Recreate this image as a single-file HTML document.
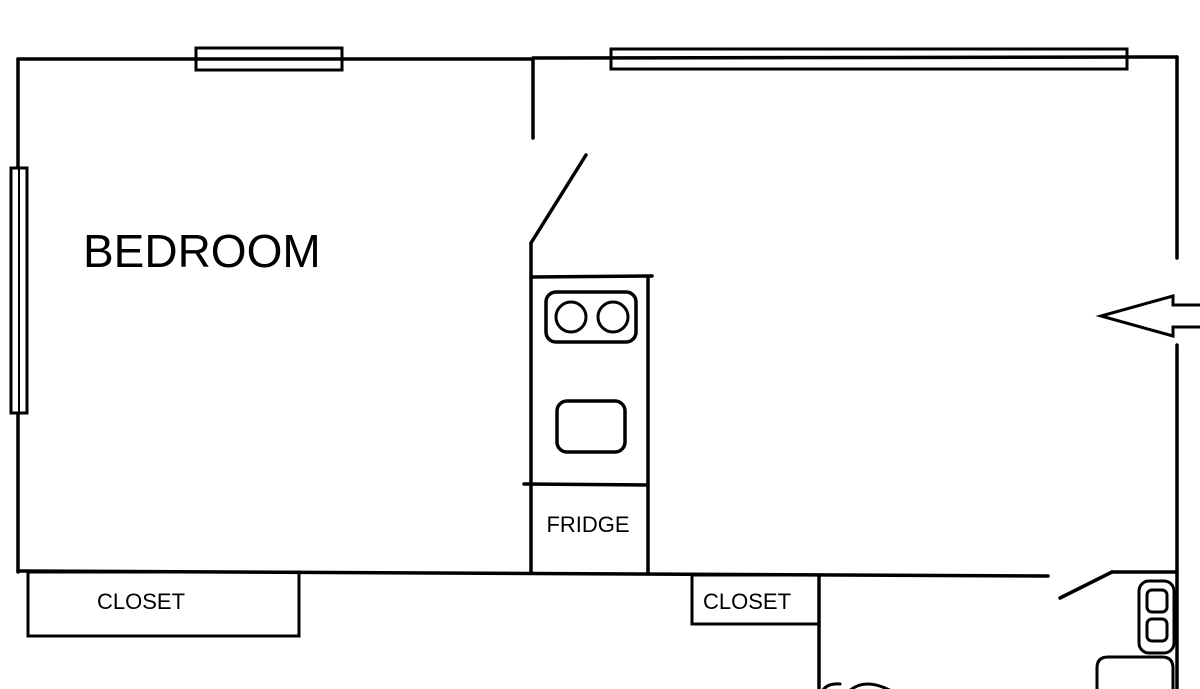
<!DOCTYPE html>
<html><head><style>html,body{margin:0;padding:0;background:#fff;width:1200px;height:689px;overflow:hidden}</style></head>
<body>
<svg width="1200" height="689" viewBox="0 0 1200 689" xmlns="http://www.w3.org/2000/svg" font-family="Liberation Sans, DejaVu Sans, sans-serif">
<g stroke="#000" stroke-width="3.5" fill="none" stroke-linecap="round">
<!-- top walls -->
<line x1="18" y1="59" x2="533" y2="59"/>
<rect x="196" y="48" width="146" height="22" stroke-width="3"/>
<line x1="533" y1="58" x2="1177" y2="57"/>
<rect x="611" y="49" width="516" height="20" stroke-width="3"/>
<!-- left wall -->
<line x1="18" y1="59" x2="18" y2="572"/>
<rect x="11" y="168" width="16" height="245" fill="#fff" stroke-width="3"/>
<line x1="19" y1="168" x2="19" y2="413" stroke-width="2"/>
<!-- partition -->
<line x1="533" y1="59" x2="533" y2="138"/>
<line x1="586" y1="155" x2="531" y2="243"/>
<line x1="531" y1="243" x2="531" y2="572"/>
<!-- right wall -->
<line x1="1177" y1="57" x2="1177" y2="258"/>
<line x1="1177" y1="345" x2="1177" y2="689"/>
<polyline points="1200,305 1173,305 1173,296 1101,316 1173,336 1173,327 1200,327" stroke-width="3"/>
<!-- counter -->
<line x1="531" y1="277" x2="652" y2="276"/>
<line x1="648" y1="277" x2="648" y2="572"/>
<rect x="546" y="292" width="90" height="50" rx="10"/>
<circle cx="571" cy="317" r="15" stroke-width="3"/>
<circle cx="613" cy="317" r="15" stroke-width="3"/>
<rect x="557" y="401" width="68" height="51" rx="10"/>
<line x1="524" y1="484" x2="648" y2="485"/>
<!-- bottom wall -->
<line x1="18" y1="571" x2="1048" y2="576"/>
<rect x="28" y="572" width="271" height="64" stroke-width="3"/>
<rect x="692" y="575" width="127" height="49" stroke-width="3"/>
<line x1="819" y1="575" x2="819" y2="689"/>
<line x1="1060" y1="598" x2="1112" y2="572"/>
<line x1="1112" y1="572" x2="1177" y2="572"/>
<rect x="1139" y="581" width="35" height="72" rx="10" stroke-width="3"/>
<rect x="1147" y="590" width="20" height="22" rx="5" stroke-width="3"/>
<rect x="1147" y="619" width="20" height="22" rx="5" stroke-width="3"/>
<path d="M1097,692 L1097,668 Q1097,657 1108,657 L1162,657 Q1173,657 1173,668 L1173,692" stroke-width="3"/>
<path d="M822,692 Q826,683 840,684 M848,692 Q865,676 893,692" stroke-width="3"/>
</g>
<g fill="#000">
<text x="83" y="267" font-size="46">BEDROOM</text>
<text x="588" y="532" font-size="22" text-anchor="middle">FRIDGE</text>
<text x="141" y="609" font-size="22" text-anchor="middle">CLOSET</text>
<text x="747" y="609" font-size="22" text-anchor="middle">CLOSET</text>
</g>
</svg>
</body></html>
